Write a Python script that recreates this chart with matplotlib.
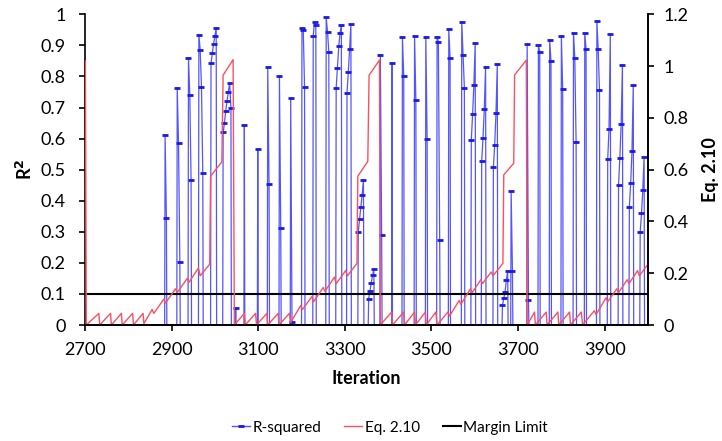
import matplotlib
matplotlib.use("Agg")
import matplotlib.pyplot as plt
from matplotlib.lines import Line2D
import numpy as np

plt.rcParams['font.family'] = ['Lato', 'DejaVu Sans']

# R-squared spikes: start iteration and the values read at successive points
spike_start = [2885, 2913, 2939, 2963, 2991, 3019, 3048, 3068, 3099, 3122,
               3149, 3175, 3201, 3227, 3257, 3280, 3305, 3331, 3355, 3382,
               3409, 3433, 3461, 3487, 3513, 3540, 3570, 3592, 3616, 3643,
               3664, 3684, 3721, 3747, 3773, 3800, 3828, 3854, 3882, 3907,
               3932, 3957, 3982]
spike_vals = [
    [0.61, 0.345], [0.764, 0.585, 0.204], [0.86, 0.74, 0.467],
    [0.935, 0.885, 0.767, 0.488], [0.842, 0.875, 0.905, 0.93, 0.957],
    [0.62, 0.65, 0.69, 0.72, 0.75, 0.78, 0.70], [0.055], [0.645], [0.565],
    [0.83, 0.455], [0.80, 0.313], [0.73, 0.01], [0.957, 0.95, 0.765],
    [0.93, 0.975, 0.967], [0.99, 0.944, 0.88],
    [0.763, 0.828, 0.898, 0.94, 0.967], [0.748, 0.814, 0.887, 0.968],
    [0.30, 0.34, 0.38, 0.42, 0.468], [0.085, 0.11, 0.135, 0.16, 0.18],
    [0.87, 0.29], [0.842], [0.928, 0.80], [0.931, 0.724], [0.928, 0.60],
    [0.928, 0.912, 0.274], [0.952, 0.86], [0.976, 0.869, 0.764],
    [0.595, 0.678, 0.774, 0.907], [0.528, 0.601, 0.695, 0.832],
    [0.507, 0.58, 0.681, 0.839], [0.064, 0.086, 0.107, 0.145, 0.174],
    [0.43, 0.175], [0.903, 0.08], [0.90, 0.88], [0.917, 0.85], [0.93, 0.76],
    [0.94, 0.86, 0.588], [0.94, 0.89], [0.978, 0.89, 0.755],
    [0.534, 0.632, 0.936], [0.451, 0.537, 0.648, 0.838],
    [0.381, 0.456, 0.559, 0.772], [0.30, 0.359, 0.434, 0.542],
]
step = 3

# Eq. 2.10 (right axis) knots
eq_iter = [2700, 2701, 2703, 2732, 2734, 2759, 2761, 2784, 2786, 2810, 2812, 2834, 2836,
           2855, 2859, 2882, 2886, 2909, 2913, 2936, 2940, 2962, 2966, 2988, 2990,
           3016, 3019, 3042, 3045,
           3068, 3070, 3094, 3096, 3120, 3122, 3146, 3148, 3172, 3175,
           3198, 3202, 3224, 3228, 3250, 3254, 3276, 3280, 3302, 3306, 3328, 3330,
           3353, 3356, 3380, 3382,
           3408, 3410, 3436, 3438, 3461, 3463, 3486, 3488, 3510, 3513,
           3538, 3542, 3564, 3568, 3590, 3594, 3614, 3618, 3638, 3642, 3665, 3667,
           3690, 3692, 3719, 3721,
           3738, 3740, 3765, 3767, 3792, 3794, 3819, 3821, 3846, 3849,
           3876, 3880, 3903, 3907, 3928, 3932, 3952, 3956, 3976, 3980, 4000]
eq_vals = [1.02, 1.02, 0.0, 0.045, 0.0, 0.045, 0.0, 0.045, 0.0, 0.045, 0.0, 0.045, 0.005,
           0.06, 0.045, 0.10, 0.085, 0.14, 0.125, 0.18, 0.165, 0.22, 0.19, 0.235, 0.575,
           0.63, 0.965, 1.025, 0.0,
           0.045, 0.0, 0.045, 0.0, 0.045, 0.0, 0.045, 0.0, 0.045, 0.01,
           0.075, 0.06, 0.11, 0.09, 0.145, 0.13, 0.185, 0.16, 0.21, 0.19, 0.238, 0.575,
           0.632, 0.965, 1.023, 0.0,
           0.05, 0.0, 0.05, 0.0, 0.05, 0.0, 0.05, 0.0, 0.05, 0.0,
           0.05, 0.035, 0.095, 0.08, 0.14, 0.125, 0.175, 0.16, 0.205, 0.19, 0.238, 0.58,
           0.625, 0.966, 1.023, 0.0,
           0.05, 0.0, 0.05, 0.0, 0.05, 0.0, 0.05, 0.0, 0.05, 0.0,
           0.055, 0.04, 0.105, 0.09, 0.14, 0.125, 0.175, 0.16, 0.21, 0.19, 0.235]

margin_limit = 0.1

# build the R-squared series: zeros every iteration, spikes replace them
pts = {}
busy = set()
for s, vals in zip(spike_start, spike_vals):
    for k, v in enumerate(vals):
        pts[s + step * k] = v
    busy.update(range(s, s + step * (len(vals) - 1) + 1))
for t in range(2700, 4001):
    if t not in busy:
        pts[t] = 0.0
bx = sorted(pts)
by = [pts[t] for t in bx]

blue_line = '#5555ff'
blue_mark = '#1a1ae6'
red = '#ff4f5e'

fig = plt.figure(figsize=(7.22, 4.41), dpi=100)
ax = fig.add_axes([0.1177, 0.263, 0.7798, 0.7045])
ax2 = ax.twinx()

ax.plot(bx, by, color=blue_line, lw=0.9, marker='_', ms=5, mew=2,
        mec=blue_mark, zorder=2)
ax.axhline(margin_limit, color='black', lw=1.5, zorder=3)
ax2.plot(eq_iter, eq_vals, color=red, lw=1.0)

ax.set_xlim(2700, 4000)
ax.set_ylim(0, 1)
ax2.set_ylim(0, 1.2)
ax.set_xticks(np.arange(2700, 4000, 200))
ax.set_yticks(np.arange(0, 1.01, 0.1))
ax.set_yticklabels(['0'] + ['%.1f' % v for v in np.arange(0.1, 0.95, 0.1)] + ['1'])
ax2.set_yticks(np.arange(0, 1.21, 0.2))
ax2.set_yticklabels(['0', '0.2', '0.4', '0.6', '0.8', '1', '1.2'])

for a in (ax, ax2):
    a.spines['top'].set_visible(False)
    for sp in a.spines.values():
        sp.set_linewidth(1.2)
    a.tick_params(labelsize=13, length=4, width=1.2)
ax.tick_params(axis='x', pad=8)
ax.tick_params(axis='y', pad=10)
ax2.tick_params(axis='y', pad=7)
ax2.spines['left'].set_visible(False)

ax.set_xlabel('Iteration', fontsize=13, fontweight='bold', labelpad=9)
ax.set_ylabel('R$^\\mathbf{2}$', fontsize=13, fontweight='bold', labelpad=4)
ax2.set_ylabel('Eq. 2.10', fontsize=13, fontweight='bold', labelpad=10)

handles = [Line2D([], [], color=blue_line, lw=1, marker='_', ms=5, mew=2, mec=blue_mark),
           Line2D([], [], color=red, lw=1),
           Line2D([], [], color='black', lw=1.5)]
fig.legend(handles, ['R-squared', 'Eq. 2.10', 'Margin Limit'], loc='center',
           bbox_to_anchor=(0.54, 0.03), ncol=3, frameon=False, fontsize=11,
           handlelength=1.2, handletextpad=0.15, columnspacing=1.5)

fig.savefig('out.png', dpi=100)
